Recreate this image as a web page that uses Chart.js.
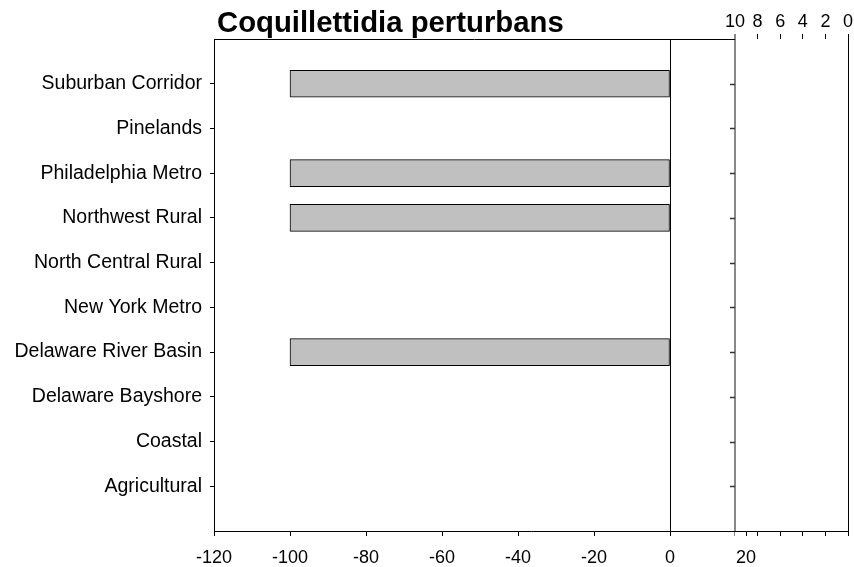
<!DOCTYPE html>
<html>
<head>
<meta charset="utf-8">
<script src="https://cdn.jsdelivr.net/npm/chart.js@4/dist/chart.umd.min.js"></script>
<style>
html,body{margin:0;padding:0;background:#fff;}
#c{display:block;}
</style>
</head>
<body>
<canvas id="c" width="854" height="567" style="width:854px;height:567px"></canvas>
<script>
const titleText = 'Coquillettidia perturbans';
const categories = ['Suburban Corridor','Pinelands','Philadelphia Metro','Northwest Rural','North Central Rural','New York Metro','Delaware River Basin','Delaware Bayshore','Coastal','Agricultural'];
const values = [-100, 0, -100, -100, 0, 0, -100, 0, 0, 0];
const bottomTicks = [-120, -100, -80, -60, -40, -20, 0, 20];
const topTicks = [10, 8, 6, 4, 2, 0];

const FONT = '"Liberation Sans", Arial, Helvetica, sans-serif';
const GRAY = '#888888';

function noPad(s) { s.paddingLeft = 0; s.paddingRight = 0; s.paddingTop = 0; s.paddingBottom = 0; }

const extras = {
  id: 'extras',
  afterDraw(chart) {
    const ctx = chart.ctx;
    const a = chart.chartArea;
    const x2 = chart.scales.x2;
    const y = chart.scales.y;
    const xb = x2.getPixelForValue(10);
    ctx.save();
    // top frame line of left panel
    ctx.strokeStyle = '#000';
    ctx.lineWidth = 1;
    ctx.beginPath();
    ctx.moveTo(a.left, Math.round(a.top) + 0.5);
    ctx.lineTo(xb, Math.round(a.top) + 0.5);
    ctx.stroke();
    // dark ticks on the break line
    ctx.strokeStyle = '#333';
    ctx.lineWidth = 1.5;
    y.ticks.forEach(t => {
      const py = Math.round(y.getPixelForValue(t.value)) + 0.5;
      ctx.beginPath();
      ctx.moveTo(xb - 5, py);
      ctx.lineTo(xb, py);
      ctx.stroke();
    });
    // title
    ctx.fillStyle = '#000';
    ctx.font = 'bold 29.3px ' + FONT;
    ctx.textAlign = 'left';
    ctx.textBaseline = 'alphabetic';
    ctx.fillText(titleText, a.left + 3, 32);
    ctx.restore();
  }
};

new Chart(document.getElementById('c'), {
  type: 'bar',
  data: {
    datasets: [{
      data: categories.map((c, i) => ({ x: values[i], y: i + 1 })),
      backgroundColor: '#c0c0c0',
      borderColor: '#000',
      borderWidth: 1,
      borderSkipped: false,
      barThickness: 27
    }]
  },
  options: {
    indexAxis: 'y',
    responsive: false,
    animation: false,
    layout: { padding: { left: 0, right: 6, top: 0, bottom: 0 } },
    plugins: { legend: { display: false }, tooltip: { enabled: false }, title: { display: false } },
    scales: {
      y: {
        type: 'linear',
        offset: false,
        min: 0, max: 11, reverse: true,
        afterBuildTicks: s => { s.ticks = categories.map((c, i) => ({ value: i + 1 })); },
        afterFit: s => { s.width = 214; noPad(s); },
        ticks: {
          autoSkip: false,
          callback: v => categories[v - 1],
          color: '#000',
          font: { family: FONT, size: 19.5 },
          padding: 8
        },
        grid: { offset: false, drawOnChartArea: false, drawTicks: true, tickLength: 4, tickColor: '#000' },
        border: { display: true, color: '#000', width: 1 }
      },
      x: {
        type: 'linear',
        position: 'bottom',
        weight: 1,
        min: -120, max: 46.84,
        afterBuildTicks: s => { s.ticks = bottomTicks.map(v => ({ value: v })); },
        afterFit: s => { s.height = 36; noPad(s); },
        ticks: {
          autoSkip: false, maxRotation: 0,
          callback: v => String(v),
          color: '#000',
          font: { family: FONT, size: 18 },
          padding: 11
        },
        grid: {
          drawOnChartArea: true,
          color: c => (c.tick && c.tick.value === 0) ? '#000' : 'rgba(0,0,0,0)',
          tickColor: '#000',
          tickLength: 5
        },
        border: { display: true, color: '#000', width: 1 }
      },
      x3: {
        type: 'linear',
        position: 'bottom',
        weight: 0,
        min: 0, max: 56.1, reverse: true,
        afterBuildTicks: s => { s.ticks = topTicks.map(v => ({ value: v })); },
        afterFit: s => { s.height = 0; noPad(s); },
        ticks: { display: false },
        grid: {
          drawOnChartArea: false,
          tickColor: c => (c.tick && c.tick.value === 10) ? GRAY : '#000',
          tickLength: 5
        },
        border: { display: false }
      },
      x2: {
        type: 'linear',
        position: 'top',
        min: 0, max: 56.1, reverse: true,
        afterBuildTicks: s => { s.ticks = topTicks.map(v => ({ value: v })); },
        afterFit: s => { s.height = 39; noPad(s); },
        ticks: {
          autoSkip: false, maxRotation: 0,
          callback: v => String(v),
          color: '#000',
          font: { family: FONT, size: 18 },
          padding: 1
        },
        grid: {
          drawOnChartArea: true,
          lineWidth: c => (c.tick && c.tick.value === 10) ? 2 : 1,
          color: c => (c.tick && c.tick.value === 10) ? GRAY : ((c.tick && c.tick.value === 0) ? '#000' : 'rgba(0,0,0,0)'),
          tickColor: c => (c.tick && c.tick.value === 10) ? GRAY : '#000',
          tickLength: 5
        },
        border: { display: false }
      }
    }
  },
  plugins: [extras]
});
</script>
</body>
</html>
